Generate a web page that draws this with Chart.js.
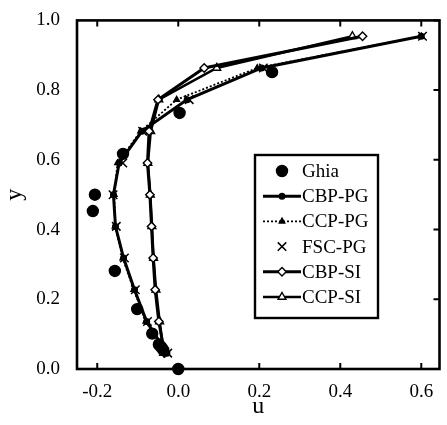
<!DOCTYPE html>
<html>
<head>
<meta charset="utf-8">
<script src="https://cdn.jsdelivr.net/npm/chart.js@4"></script>
<style>
  html, body { margin: 0; padding: 0; background: #fff; overflow: hidden; }
  #wrap { width: 447px; height: 425px; }
</style>
</head>
<body>
<div id="wrap"><canvas id="profile" width="447" height="425"></canvas></div>
<script>
// cell centres of the 11x11 grid, y = (i + 0.5) / 11
var yCells = [0.0455, 0.1364, 0.2273, 0.3182, 0.4091, 0.5, 0.5909, 0.6818, 0.7727, 0.8636, 0.9545];

// benchmark points (only those inside the plotted u range)
var ghiaY = [0.0, 0.0547, 0.0625, 0.0703, 0.1016, 0.1719, 0.2813, 0.4531, 0.5, 0.6172, 0.7344, 0.8516];
var ghiaU = [0.0, -0.0372, -0.0419, -0.0478, -0.0643, -0.1015, -0.1566, -0.2109, -0.2058, -0.1364, 0.0033, 0.2315];

var cbpPG = [-0.028, -0.078, -0.108, -0.135, -0.155, -0.160, -0.146, -0.090, 0.022, 0.206, 0.600];
var ccpPG = [-0.030, -0.080, -0.110, -0.137, -0.156, -0.158, -0.150, -0.093, -0.004, 0.195, 0.600];
var fscPG = [-0.026, -0.076, -0.106, -0.133, -0.153, -0.161, -0.137, -0.088, 0.027, 0.210, 0.603];
var cbpSI = [-0.034, -0.048, -0.057, -0.062, -0.066, -0.070, -0.076, -0.072, -0.050, 0.064, 0.455];
var ccpSI = [-0.036, -0.046, -0.055, -0.061, -0.065, -0.069, -0.075, -0.068, -0.048, 0.095, 0.430];

var xTicks = [-0.2, 0.0, 0.2, 0.4, 0.6];
var yTicks = [0.0, 0.2, 0.4, 0.6, 0.8, 1.0];

function pts(us, ys) {
  return us.map(function(u, i) { return { x: u, y: ys[i] }; });
}

var serif = '"Liberation Serif", "Times New Roman", serif';

var datasets = [
  { label: 'Ghia', data: pts(ghiaU, ghiaY), showLine: false, clip: false,
    pointStyle: 'circle', pointRadius: 5.5, backgroundColor: '#000', borderColor: '#000', borderWidth: 0 },
  { label: 'CBP-PG', data: pts(cbpPG, yCells), showLine: true,
    pointStyle: 'circle', pointRadius: 2.8, backgroundColor: '#000', borderColor: '#000', borderWidth: 3 },
  { label: 'CCP-PG', data: pts(ccpPG, yCells), showLine: true, borderDash: [2, 2],
    pointStyle: 'triangle', pointRadius: 3.2, backgroundColor: '#000', borderColor: '#000', borderWidth: 1.8 },
  { label: 'FSC-PG', data: pts(fscPG, yCells), showLine: false,
    pointStyle: 'crossRot', pointRadius: 6, backgroundColor: '#000', borderColor: '#000', borderWidth: 1.5 },
  { label: 'CBP-SI', data: pts(cbpSI, yCells), showLine: true,
    pointStyle: 'rectRot', pointRadius: 4.2, backgroundColor: '#fff', borderColor: '#000', borderWidth: 3 },
  { label: 'CCP-SI', data: pts(ccpSI, yCells), showLine: true,
    pointStyle: 'triangle', pointRadius: 4.5, backgroundColor: '#fff', borderColor: '#000', borderWidth: 2.6 }
];
// marker outlines thinner than the lines
datasets.forEach(function(d) {
  d.pointBorderWidth = d.label == 'FSC-PG' ? 1.5 : 1.4;
  d.pointBackgroundColor = d.backgroundColor;
  d.pointBorderColor = '#000';
});

// box, inward ticks and the boxed legend
var frameAndLegend = {
  id: 'frameAndLegend',
  afterDraw: function(chart) {
    var ctx = chart.ctx;
    var a = chart.chartArea;
    var xs = chart.scales.x, ys = chart.scales.y;
    ctx.save();
    ctx.strokeStyle = '#000';
    ctx.lineWidth = 2.6;
    ctx.strokeRect(a.left, a.top, a.right - a.left, a.bottom - a.top);
    ctx.lineWidth = 2;
    ctx.beginPath();
    xTicks.forEach(function(v) {
      var px = xs.getPixelForValue(v);
      ctx.moveTo(px, a.bottom); ctx.lineTo(px, a.bottom - 6);
      ctx.moveTo(px, a.top); ctx.lineTo(px, a.top + 6);
    });
    yTicks.forEach(function(v) {
      var py = ys.getPixelForValue(v);
      ctx.moveTo(a.right, py); ctx.lineTo(a.right - 6, py);
    });
    ctx.stroke();

    // legend
    var bx = 255, by = 155, bw = 123, bh = 163;
    ctx.fillStyle = '#fff';
    ctx.fillRect(bx, by, bw, bh);
    ctx.lineWidth = 2.4;
    ctx.strokeRect(bx, by, bw, bh);
    ctx.font = '19px ' + serif;
    ctx.textBaseline = 'middle';
    ctx.textAlign = 'left';
    chart.data.datasets.forEach(function(d, i) {
      var ly = by + 16 + i * 25.2;
      var x0 = bx + 8, x1 = bx + 46, xm = (x0 + x1) / 2;
      ctx.strokeStyle = '#000';
      if (d.showLine) {
        ctx.lineWidth = d.borderWidth;
        ctx.setLineDash(d.borderDash || []);
        ctx.beginPath(); ctx.moveTo(x0, ly); ctx.lineTo(x1, ly); ctx.stroke();
        ctx.setLineDash([]);
      }
      ctx.fillStyle = d.backgroundColor;
      ctx.lineWidth = d.pointBorderWidth;
      Chart.helpers.drawPoint(ctx, {
        pointStyle: d.pointStyle, radius: d.pointRadius, rotation: 0, borderWidth: d.pointBorderWidth
      }, xm, ly);
      ctx.fillStyle = '#000';
      ctx.fillText(d.label, x1 + 1, ly + 1);
    });
    ctx.restore();
  }
};

new Chart(document.getElementById('profile'), {
  type: 'scatter',
  data: { datasets: datasets },
  options: {
    responsive: false,
    animation: false,
    layout: { padding: { top: 15, right: 1, left: 0, bottom: 0 } },
    plugins: { legend: { display: false }, tooltip: { enabled: false } },
    elements: { line: { tension: 0 } },
    scales: {
      x: {
        type: 'linear', min: -0.25, max: 0.645,
        afterBuildTicks: function(s) { s.ticks = xTicks.map(function(v) { return { value: v }; }); },
        afterFit: function(s) { s.height = 56; },
        grid: { display: false }, border: { display: false },
        ticks: { color: '#000', padding: 4, maxRotation: 0, font: { family: serif, size: 19 },
                 callback: function(v) { return v.toFixed(1); } },
        title: { display: true, text: 'u', color: '#000', font: { family: serif, size: 24 } }
      },
      y: {
        type: 'linear', min: 0, max: 1,
        afterBuildTicks: function(s) { s.ticks = yTicks.map(function(v) { return { value: v }; }); },
        afterFit: function(s) { s.width = 77; },
        grid: { display: false }, border: { display: false },
        ticks: { color: '#000', padding: 9, font: { family: serif, size: 19 },
                 callback: function(v) { return v.toFixed(1); } },
        title: { display: true, text: 'y', color: '#000', padding: 0, font: { family: serif, size: 24 } }
      }
    }
  },
  plugins: [frameAndLegend]
});
</script>
</body>
</html>
